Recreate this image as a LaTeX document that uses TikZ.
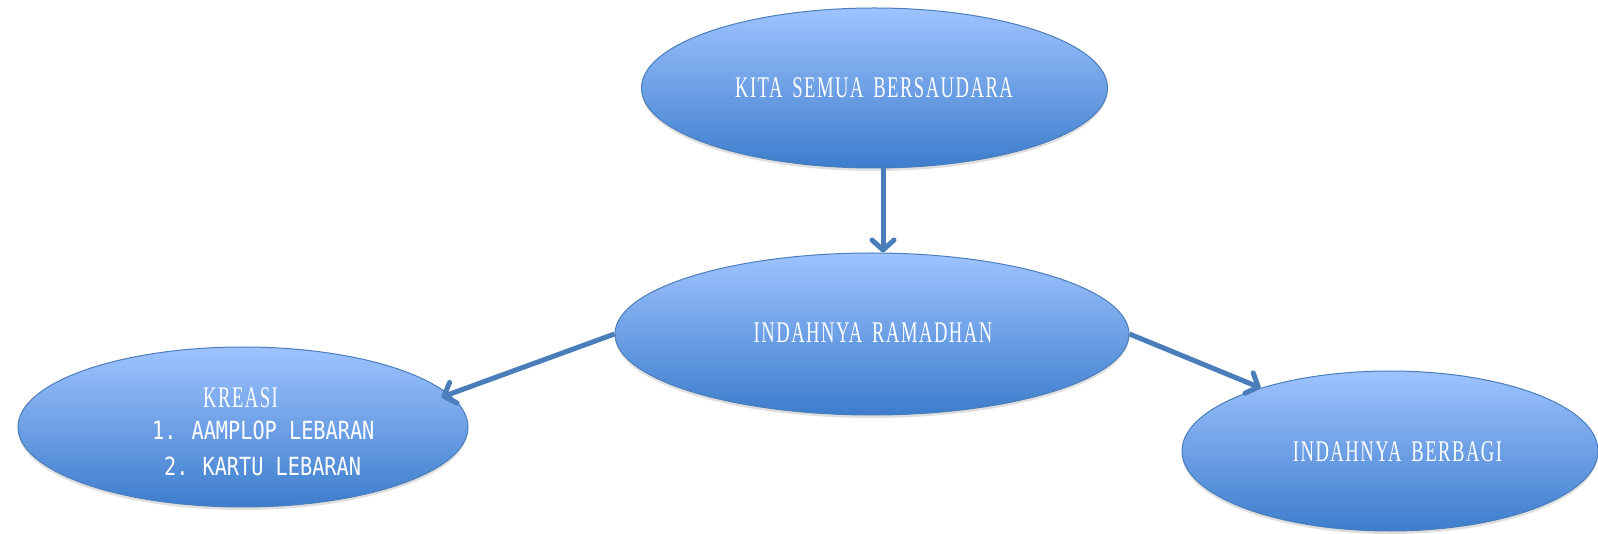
\documentclass[tikz,border=0pt]{standalone}
\usepackage{fontspec}
\usetikzlibrary{shapes.geometric,arrows.meta,shadows}
\newfontfamily\simfont[FakeStretch=0.62,LetterSpace=5,WordSpace=1.6]{Liberation Serif}
\newfontfamily\heifont[FakeStretch=0.81]{DejaVu Sans Mono}
\definecolor{edgec}{HTML}{4A7EBB}
\definecolor{topc}{HTML}{9EC3FF}
\definecolor{botc}{HTML}{3D7DCC}
\begin{document}
\begin{tikzpicture}[x=1pt,y=1pt,
  bubble/.style={ellipse, draw=edgec, line width=1pt, top color=topc, bottom color=botc,
    inner sep=0pt, drop shadow={opacity=0.25, shadow xshift=0pt, shadow yshift=-3pt}},
  lbl/.style={text=white, font=\simfont\fontsize{30}{34}\selectfont, inner sep=0pt, anchor=base},
  itemtxt/.style={text=white, font=\heifont\fontsize{25}{29}\selectfont, inner sep=0pt, anchor=base west},
  link/.style={draw=edgec, line width=5pt, -{Straight Barb[length=10pt,width=22pt,round]}}]
\useasboundingbox (0,0) rectangle (1598,-534);
% ellipses
\node[bubble, minimum width=466pt, minimum height=160pt] (top) at (874.5,-88) {};
\node[bubble, minimum width=514pt, minimum height=162pt] (mid) at (872,-334) {};
\node[bubble, minimum width=450pt, minimum height=160pt] (left) at (243,-427) {};
\node[bubble, minimum width=416pt, minimum height=160pt] (right) at (1390,-451) {};
% texts
\node[lbl] (ttop) at (874,-98) {KITA SEMUA BERSAUDARA};
\node[lbl] (tmid) at (873,-343) {INDAHNYA RAMADHAN};
\node[lbl] (tright) at (1397.5,-461.5) {INDAHNYA BERBAGI};
\node[lbl, anchor=base west] (tleft) at (203,-407) {KREASI};
\node[itemtxt] (item1) at (152,-439) {1.\hspace*{15pt}AAMPLOP LEBARAN};
\node[itemtxt] (item2) at (164,-475) {2.\hspace*{14pt}KARTU LEBARAN};
% connectors
\draw[link] ([xshift=8.5pt]top.south) -- ([xshift=8.5pt]top.south |- mid.north);
\draw[link, shorten >=-8pt] (mid.west) -- (left.9);
\draw[link] (mid.east) -- (right.154);
\end{tikzpicture}
\end{document}
